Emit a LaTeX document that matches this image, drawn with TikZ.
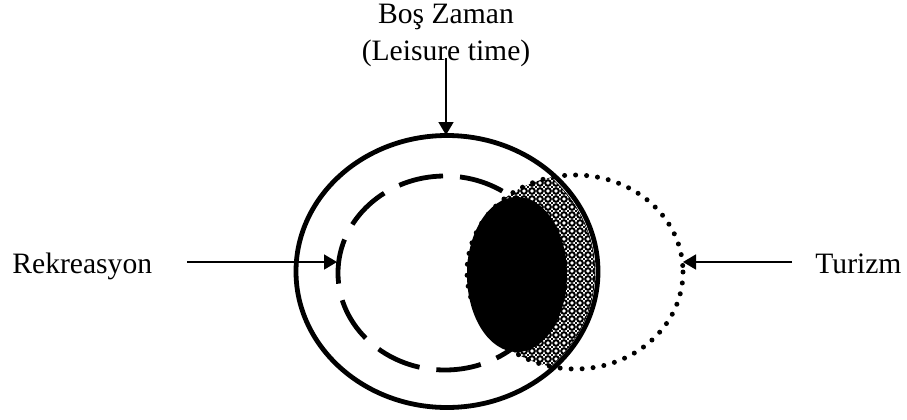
\documentclass[tikz,border=0pt]{standalone}
\usepackage{fontspec}
\setmainfont{Liberation Serif}
\usetikzlibrary{arrows.meta,patterns}
\pgfdeclarepatternformonly{rings}{\pgfqpoint{-1pt}{-1pt}}{\pgfqpoint{5pt}{5pt}}{\pgfqpoint{4pt}{4pt}}{%
  \pgfsetlinewidth{1pt}%
  \pgfpathcircle{\pgfqpoint{2pt}{2pt}}{1.4pt}\pgfusepath{stroke}%
  \pgfpathcircle{\pgfqpoint{0pt}{0pt}}{0.45pt}\pgfusepath{fill}%
  \pgfpathcircle{\pgfqpoint{4pt}{0pt}}{0.45pt}\pgfusepath{fill}%
  \pgfpathcircle{\pgfqpoint{0pt}{4pt}}{0.45pt}\pgfusepath{fill}%
  \pgfpathcircle{\pgfqpoint{4pt}{4pt}}{0.45pt}\pgfusepath{fill}%
}
\begin{document}
\begin{tikzpicture}[x=0.5pt,y=-0.5pt,
  lbl/.style={font=\fontsize{14.8pt}{18pt}\selectfont, inner sep=0pt},
  thickring/.style={line width=2.4pt},
  dashring/.style={line width=2.4pt, dash pattern=on 22.5pt off 8.5pt},
  dotring/.style={line width=2.5pt, line cap=round, dash pattern=on 0pt off 5.5pt},
  pointer/.style={line width=0.9pt, -{Triangle[length=6.5pt,width=7.5pt]}}]
\useasboundingbox (0,0) rectangle (907,419);
% dashed ellipse (Rekreasyon)
\draw[dashring] (445,273) ellipse [x radius=107, y radius=97];
% hatched band
\begin{scope}
  \clip (575,272) ellipse [x radius=108, y radius=97];
  \clip (447,272) ellipse [x radius=148, y radius=133];
  \fill[pattern=rings] (440,150) rectangle (620,400);
  \draw[line width=0.6pt] (447,272) ellipse [x radius=148, y radius=133];
\end{scope}
% dotted ellipse (Turizm)
\draw[dotring] (575,272) ellipse [x radius=108, y radius=97];
% black overlap
\fill (517,274.5) ellipse [x radius=50, y radius=77.5];
% outer ellipse (Bos Zaman)
\draw[thickring] (447,271.5) ellipse [x radius=151, y radius=136];
% points on the rings
\coordinate (outerTop) at (446,135);
\coordinate (dashLeft) at (337,262);
\coordinate (dotRight) at (683,262);
\coordinate (topStart) at (446,58);
\coordinate (leftStart) at (187,262);
\coordinate (rightStart) at (792,262);
% labels
\node[lbl, anchor=base] (bos) at (446,23.5) {Boş Zaman};
\node[lbl, anchor=base] (leisure) at (446,60) {(Leisure time)};
\node[lbl, anchor=base west] (rek) at (12,273) {Rekreasyon};
\node[lbl, anchor=base west] (tur) at (815,273) {Turizm};
% arrows
\draw[pointer] (topStart) -- (outerTop);
\draw[pointer] (leftStart) -- (dashLeft);
\draw[pointer] (rightStart) -- (dotRight);
\end{tikzpicture}
\end{document}
